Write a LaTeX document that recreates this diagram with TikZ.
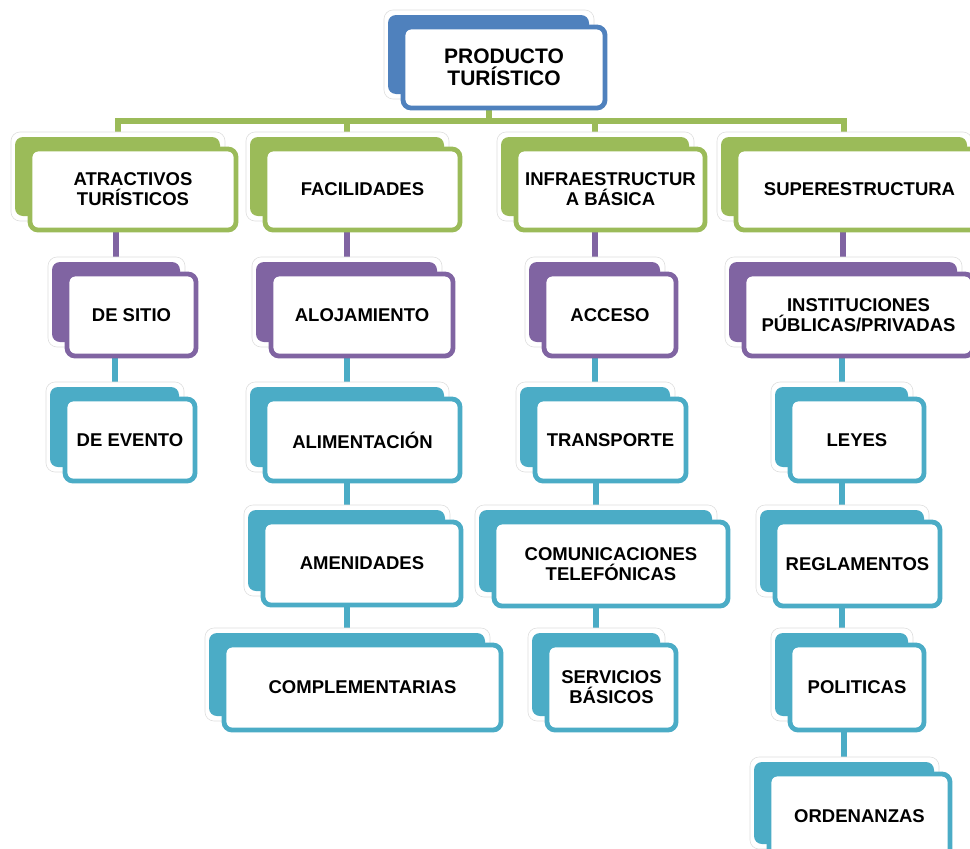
\documentclass[tikz,border=0pt]{standalone}
\usepackage{fontspec}
\setmainfont{Liberation Sans}
\usepackage{tikz}
\usetikzlibrary{backgrounds}
\definecolor{ogreen}{HTML}{9BBB59}
\definecolor{opurple}{HTML}{8064A2}
\definecolor{oteal}{HTML}{4BACC6}
\definecolor{oblue}{HTML}{4F81BD}
\tikzset{
  halo/.style={draw=gray!25, line width=0.6pt, fill=white, rounded corners=9pt},
  backbox/.style={rounded corners=8pt, inner sep=0pt},
  frontbox/.style={draw, fill=white, line width=4.8pt, rounded corners=8pt,
    inner sep=0pt, align=center, text=black},
  lbl/.style={font=\bfseries\fontsize{18.5}{20}\selectfont},
  tlbl/.style={font=\bfseries\fontsize{21}{22}\selectfont},
  conn/.style={draw=#1, line width=6pt},
}
% box: [label style] name, colour, x1, y1, x2, y2 (front box), text
\newcommand{\tbox}[8][lbl]{%
  \draw[halo] (#4-17,#5-15) rectangle (#6-13,#7-11);
  \node[backbox, fill=#3, minimum width={#6-#4-5}, minimum height={#7-#5-6}]
    (b-#2) at ({(#4+#6)/2-15.5},{(#5+#7)/2-13}) {};
  \node[frontbox, draw=#3, #1, minimum width={#6-#4-4}, minimum height={#7-#5-4}]
    (#2) at ({(#4+#6)/2},{(#5+#7)/2}) {#8};
}

\begin{document}
\begin{tikzpicture}[x=1pt, y=-1pt]
  \useasboundingbox (0,0) rectangle (970,849);
  \clip (0,0) rectangle (970,849);

  \tbox[tlbl]{top}{oblue}{401}{25}{607}{110}{PRODUCTO\\TURÍSTICO}

  \foreach \n/\c/\xa/\ya/\xb/\yb/\t in {
      atr/ogreen/28/147/238/232/{ATRACTIVOS\\TURÍSTICOS},
      fac/ogreen/263/147/462/232/{FACILIDADES},
      inf/ogreen/514/147/707/232/{INFRAESTRUCTUR\\A BÁSICA},
      sup/ogreen/734/147/985/232/{SUPERESTRUCTURA},
      sit/opurple/65/272/198/358/{DE SITIO},
      alo/opurple/269/272/455/358/{ALOJAMIENTO},
      acc/opurple/542/272/678/358/{ACCESO},
      ins/opurple/742/272/975/358/{INSTITUCIONES\\PÚBLICAS/PRIVADAS},
      eve/oteal/63/397/197/483/{DE EVENTO},
      ali/oteal/263/397/462/483/{ALIMENTACIÓN},
      tra/oteal/533/397/688/483/{TRANSPORTE},
      ley/oteal/788/397/926/483/{LEYES},
      ame/oteal/261/520/463/607/{AMENIDADES},
      com/oteal/492/520/730/608/{COMUNICACIONES\\TELEFÓNICAS},
      reg/oteal/773/520/942/608/{REGLAMENTOS},
      cpl/oteal/222/643/503/732/{COMPLEMENTARIAS},
      ser/oteal/545/643/678/732/{SERVICIOS\\BÁSICOS},
      pol/oteal/788/643/926/732/{POLITICAS},
      ord/oteal/767/772/952/860/{ORDENANZAS}}
    \tbox{\n}{\c}{\xa}{\ya}{\xb}{\yb}{\t};

  \begin{scope}[on background layer]
    \fill[white] (0,0) rectangle (970,849);
    \coordinate (bus) at (0,121);
    % top level bus
    \draw[conn=ogreen] (b-top.center) -- (b-top.center |- bus);
    \draw[conn=ogreen] (b-atr.center) |- (b-sup.center |- bus) -- (b-sup.center);
    \foreach \ch in {fac,inf}
      \draw[conn=ogreen] (b-\ch.center) -- (b-\ch.center |- bus);
    % columns
    \foreach \p/\ch/\c in {atr/sit/opurple, sit/eve/oteal,
        fac/alo/opurple, alo/ali/oteal, ali/ame/oteal, ame/cpl/oteal,
        inf/acc/opurple, acc/tra/oteal, tra/com/oteal, com/ser/oteal,
        sup/ins/opurple, ins/ley/oteal, ley/reg/oteal, reg/pol/oteal, pol/ord/oteal}
      \draw[conn=\c] (b-\ch.center) -- (b-\ch.center |- \p.center);
  \end{scope}
\end{tikzpicture}
\end{document}
